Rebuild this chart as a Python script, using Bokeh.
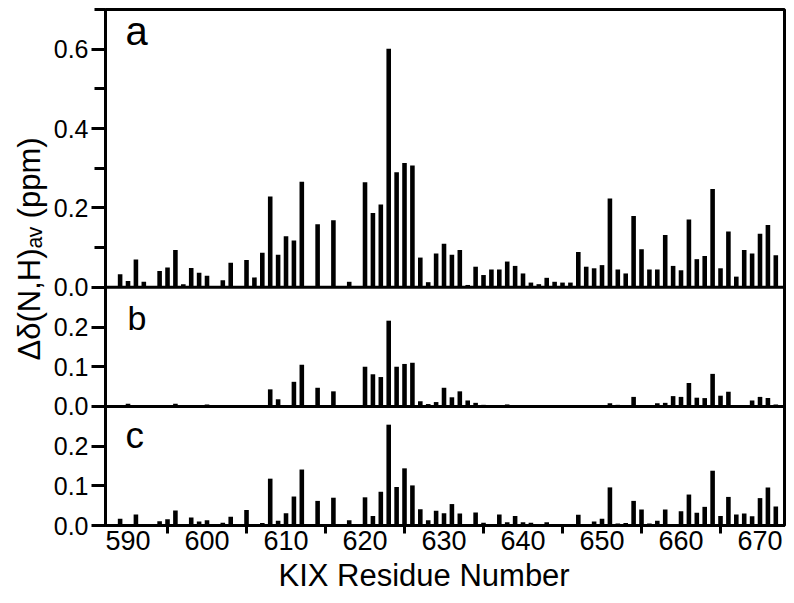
from bokeh.plotting import figure
from bokeh.models import Range1d, FixedTicker, Span, Label, Title
from bokeh.embed import file_html
from bokeh.resources import INLINE

# ---------------- data ----------------
residues = list(range(588, 673))

shift_a = [0.003, 0.033, 0.016, 0.070, 0.014, 0, 0.041, 0.050, 0.094, 0.008,
           0.049, 0.037, 0.029, 0, 0.018, 0.062, 0, 0.069, 0.025, 0.087,
           0.229, 0.082, 0.129, 0.118, 0.266, 0, 0.159, 0, 0.169, 0,
           0.014, 0.003, 0.265, 0.187, 0.209, 0.601, 0.290, 0.313, 0.307, 0.075,
           0.013, 0.085, 0.110, 0.082, 0.094, 0.006, 0.052, 0.031, 0.045, 0.045,
           0.065, 0.054, 0.035, 0.012, 0.008, 0.024, 0.014, 0.012, 0.012, 0.089,
           0.052, 0.048, 0.056, 0.224, 0.045, 0.035, 0.180, 0.096, 0.045, 0.045,
           0.132, 0.054, 0.043, 0.171, 0.071, 0.079, 0.248, 0.048, 0.141, 0.027,
           0.094, 0.085, 0.135, 0.157, 0.081]

shift_b = [0, 0, 0.007, 0, 0, 0, 0, 0, 0.007, 0,
           0, 0, 0.005, 0, 0, 0, 0.003, 0, 0.003, 0,
           0.043, 0.018, 0, 0.062, 0.105, 0, 0.047, 0, 0.038, 0,
           0.003, 0, 0.100, 0.081, 0.074, 0.216, 0.100, 0.107, 0.110, 0.013,
           0.006, 0.011, 0.047, 0.023, 0.038, 0.015, 0.009, 0.004, 0, 0,
           0.005, 0, 0, 0, 0, 0, 0, 0, 0, 0.002,
           0, 0.003, 0, 0.008, 0.004, 0, 0.024, 0.003, 0, 0.008,
           0.009, 0.026, 0.024, 0.059, 0.022, 0.021, 0.082, 0.027, 0.037, 0,
           0.003, 0.015, 0.024, 0.021, 0.005]

shift_c = [0, 0.017, 0, 0.028, 0.004, 0, 0.011, 0.016, 0.038, 0,
           0.020, 0.010, 0.013, 0, 0.007, 0.022, 0.003, 0.039, 0, 0.006,
           0.118, 0.012, 0.031, 0.073, 0.141, 0, 0.062, 0, 0.070, 0,
           0.013, 0, 0.071, 0.024, 0.085, 0.254, 0.097, 0.144, 0.101, 0.041,
           0.013, 0.037, 0.031, 0.054, 0.030, 0.004, 0.033, 0.007, 0.003, 0.028,
           0.008, 0.024, 0.008, 0.007, 0, 0.008, 0, 0, 0, 0.027,
           0, 0.010, 0.017, 0.096, 0.005, 0.006, 0.062, 0.040, 0.005, 0.012,
           0.040, 0, 0.036, 0.078, 0.032, 0.047, 0.138, 0.024, 0.072, 0.028,
           0.030, 0.023, 0.069, 0.096, 0.048]

panel_letters = ["a", "b", "c"]
x_ticks = [590, 600, 610, 620, 630, 640, 650, 660, 670]
x_minor_ticks = [595, 605, 615, 625, 635, 645, 655, 665]
ticks_a = [0.0, 0.2, 0.4, 0.6]
minor_a = [0.1, 0.3, 0.5, 0.7]
ticks_bc = [0.0, 0.1, 0.2]
x_title = "KIX Residue Number"
y_title = "Δδ(N,H)ₐᵥ (ppm)"

# ---------------- layout ----------------
FONT = "Liberation Sans"
off_a, off_b, off_c = 0.0, -0.3, -0.6   # panel a 0..0.7, b and c 0..0.3 stacked below

p = figure(frame_width=679, frame_height=516, output_backend="svg", toolbar_location=None,
           x_range=Range1d(587.15, 673.1), y_range=Range1d(-0.6, 0.7),
           min_border_left=105, min_border_right=6, min_border_top=9,
           min_border_bottom=0)
p.extra_y_ranges = {"b": Range1d(-0.6 - off_b, 0.7 - off_b),
                    "c": Range1d(-0.6 - off_c, 0.7 - off_c)}
p.grid.visible = False
p.outline_line_color = "black"
p.outline_line_width = 3
p.background_fill_color = "white"
p.border_fill_color = "white"

bw = 0.58
p.vbar(x=residues, top=shift_a, bottom=0, width=bw, fill_color="black", line_color=None)
p.vbar(x=residues, top=shift_b, bottom=0, width=bw, fill_color="black", line_color=None,
       y_range_name="b")
p.vbar(x=residues, top=shift_c, bottom=0, width=bw, fill_color="black", line_color=None,
       y_range_name="c")

for off in (off_a, off_b):
    p.add_layout(Span(location=off, dimension="width", line_color="black", line_width=3))

# x axis
xa = p.xaxis[0]
xa.ticker = FixedTicker(ticks=x_ticks, minor_ticks=x_minor_ticks)
xa.axis_line_width = 3
xa.major_tick_out = 0
xa.major_tick_in = 0
xa.minor_tick_out = 8
xa.minor_tick_in = 0
xa.minor_tick_line_width = 3
xa.major_label_standoff = -3
xa.major_label_text_font = FONT
xa.major_label_text_font_size = "27px"
xa.major_label_text_color = "black"

# x title, slightly left of centre as in the original figure
p.add_layout(Title(text=x_title, align="left", offset=173, standoff=6,
                   text_font=FONT, text_font_size="31px", text_font_style="normal",
                   text_color="black"), "below")

# y axis (one axis carrying the three panels' ticks)
ya = p.yaxis[0]
major_pos = [round(t + off_a, 3) for t in ticks_a] + \
            [round(t + off_b, 3) for t in ticks_bc] + \
            [round(t + off_c, 3) for t in ticks_bc]
major_lab = ["%.1f" % t for t in ticks_a] + ["%.1f" % t for t in ticks_bc] * 2
ya.ticker = FixedTicker(ticks=major_pos, minor_ticks=[round(t + off_a, 3) for t in minor_a])
ya.major_label_overrides = {pos: lab for pos, lab in zip(major_pos, major_lab)}
ya.axis_line_width = 3
ya.major_tick_out = 14
ya.major_tick_in = 0
ya.minor_tick_out = 11
ya.minor_tick_in = 0
ya.major_tick_line_width = 3
ya.minor_tick_line_width = 3
ya.major_label_standoff = 3
ya.major_label_text_font = FONT
ya.major_label_text_font_size = "25px"
ya.major_label_text_color = "black"

# y title on the left, placed a little above the frame centre as in the original
p.add_layout(Title(text=y_title, align="left", offset=165, standoff=8,
                   text_font=FONT, text_font_size="31px", text_font_style="normal",
                   text_color="black"), "left")

# panel letters
letter_pos = [(20, 495, "40px"), (22, 208, "34px"), (20, 90, "37px")]
for letter, (lx, ly, fs) in zip(panel_letters, letter_pos):
    p.add_layout(Label(x=lx, y=ly, x_units="screen", y_units="screen", text=letter,
                       text_font=FONT, text_font_size=fs, text_baseline="alphabetic",
                       text_color="black"))

open("out.html", "w").write(file_html(p, INLINE))
